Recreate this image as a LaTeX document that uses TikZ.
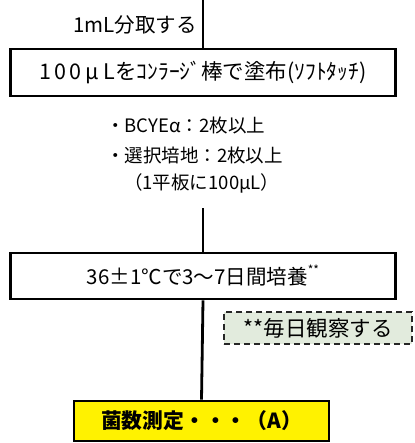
\documentclass[tikz,border=0pt]{standalone}
\usepackage{fontspec}
\setmainfont{Noto Sans CJK JP}
\newfontfamily\jp{Noto Sans CJK JP}
\definecolor{notefill}{RGB}{226,235,221}
\begin{document}
\begin{tikzpicture}[x=1pt,y=-1pt,
  flow/.style={draw=black,line width=2.6pt,fill=white,inner sep=0pt,font=\jp\fontsize{20.5pt}{24pt}\selectfont},
  link/.style={line width=2.8pt},
  note/.style={font=\jp\fontsize{18.5pt}{22pt}\selectfont,inner sep=0pt,anchor=west},
  remark/.style={draw=black!85,dashed,dash pattern=on 6pt off 4pt,line width=1.6pt,fill=notefill,inner sep=0pt,font=\jp\fontsize{21.5pt}{24pt}\selectfont},
  result/.style={draw=black,line width=2.6pt,fill=yellow,inner sep=0pt,font=\jp\bfseries\fontsize{20.8pt}{24pt}\selectfont}]
\useasboundingbox (0,0) rectangle (414,443);
\node[flow,minimum width=385pt,minimum height=47pt,font=\jp\fontsize{21.5pt}{24pt}\selectfont] (box1) at (203,72.5) {1\hspace{3pt}0\hspace{3pt}0\hspace{4pt}μ\hspace{5pt}Lをｺﾝﾗｰｼﾞ棒で塗布(ｿﾌﾄﾀｯﾁ)};
\coordinate (top) at (203,0);
\node[font=\jp\fontsize{20.5pt}{24pt}\selectfont,inner sep=0pt,anchor=east] (take) at (197,25) {1mL分取する};
\node[note] (n1) at (106,125) {・BCYEα：2枚以上};
\node[note] (n2) at (106,155) {・選択培地：2枚以上};
\node[note] (n3) at (124,183) {（1平板に100μL）};
\coordinate (c1) at (203,208);
\node[flow,minimum width=385pt,minimum height=46pt] (box2) at (203,276) {36±1℃で3～7日間培養\raisebox{0.9ex}{\fontsize{12pt}{13pt}\selectfont **}};
\node[remark,minimum width=188pt,minimum height=32pt] (rem) at (318,328) {**毎日観察する};
\node[result,minimum width=255pt,minimum height=40pt] (box3) at (201.5,421) {菌数測定・・・（A）};
\draw[link] (top) -- (box1.north);
\draw[link] (c1) -- (box2.north);
\draw[link] (box2.south) -- (box3.north);
\end{tikzpicture}
\end{document}
